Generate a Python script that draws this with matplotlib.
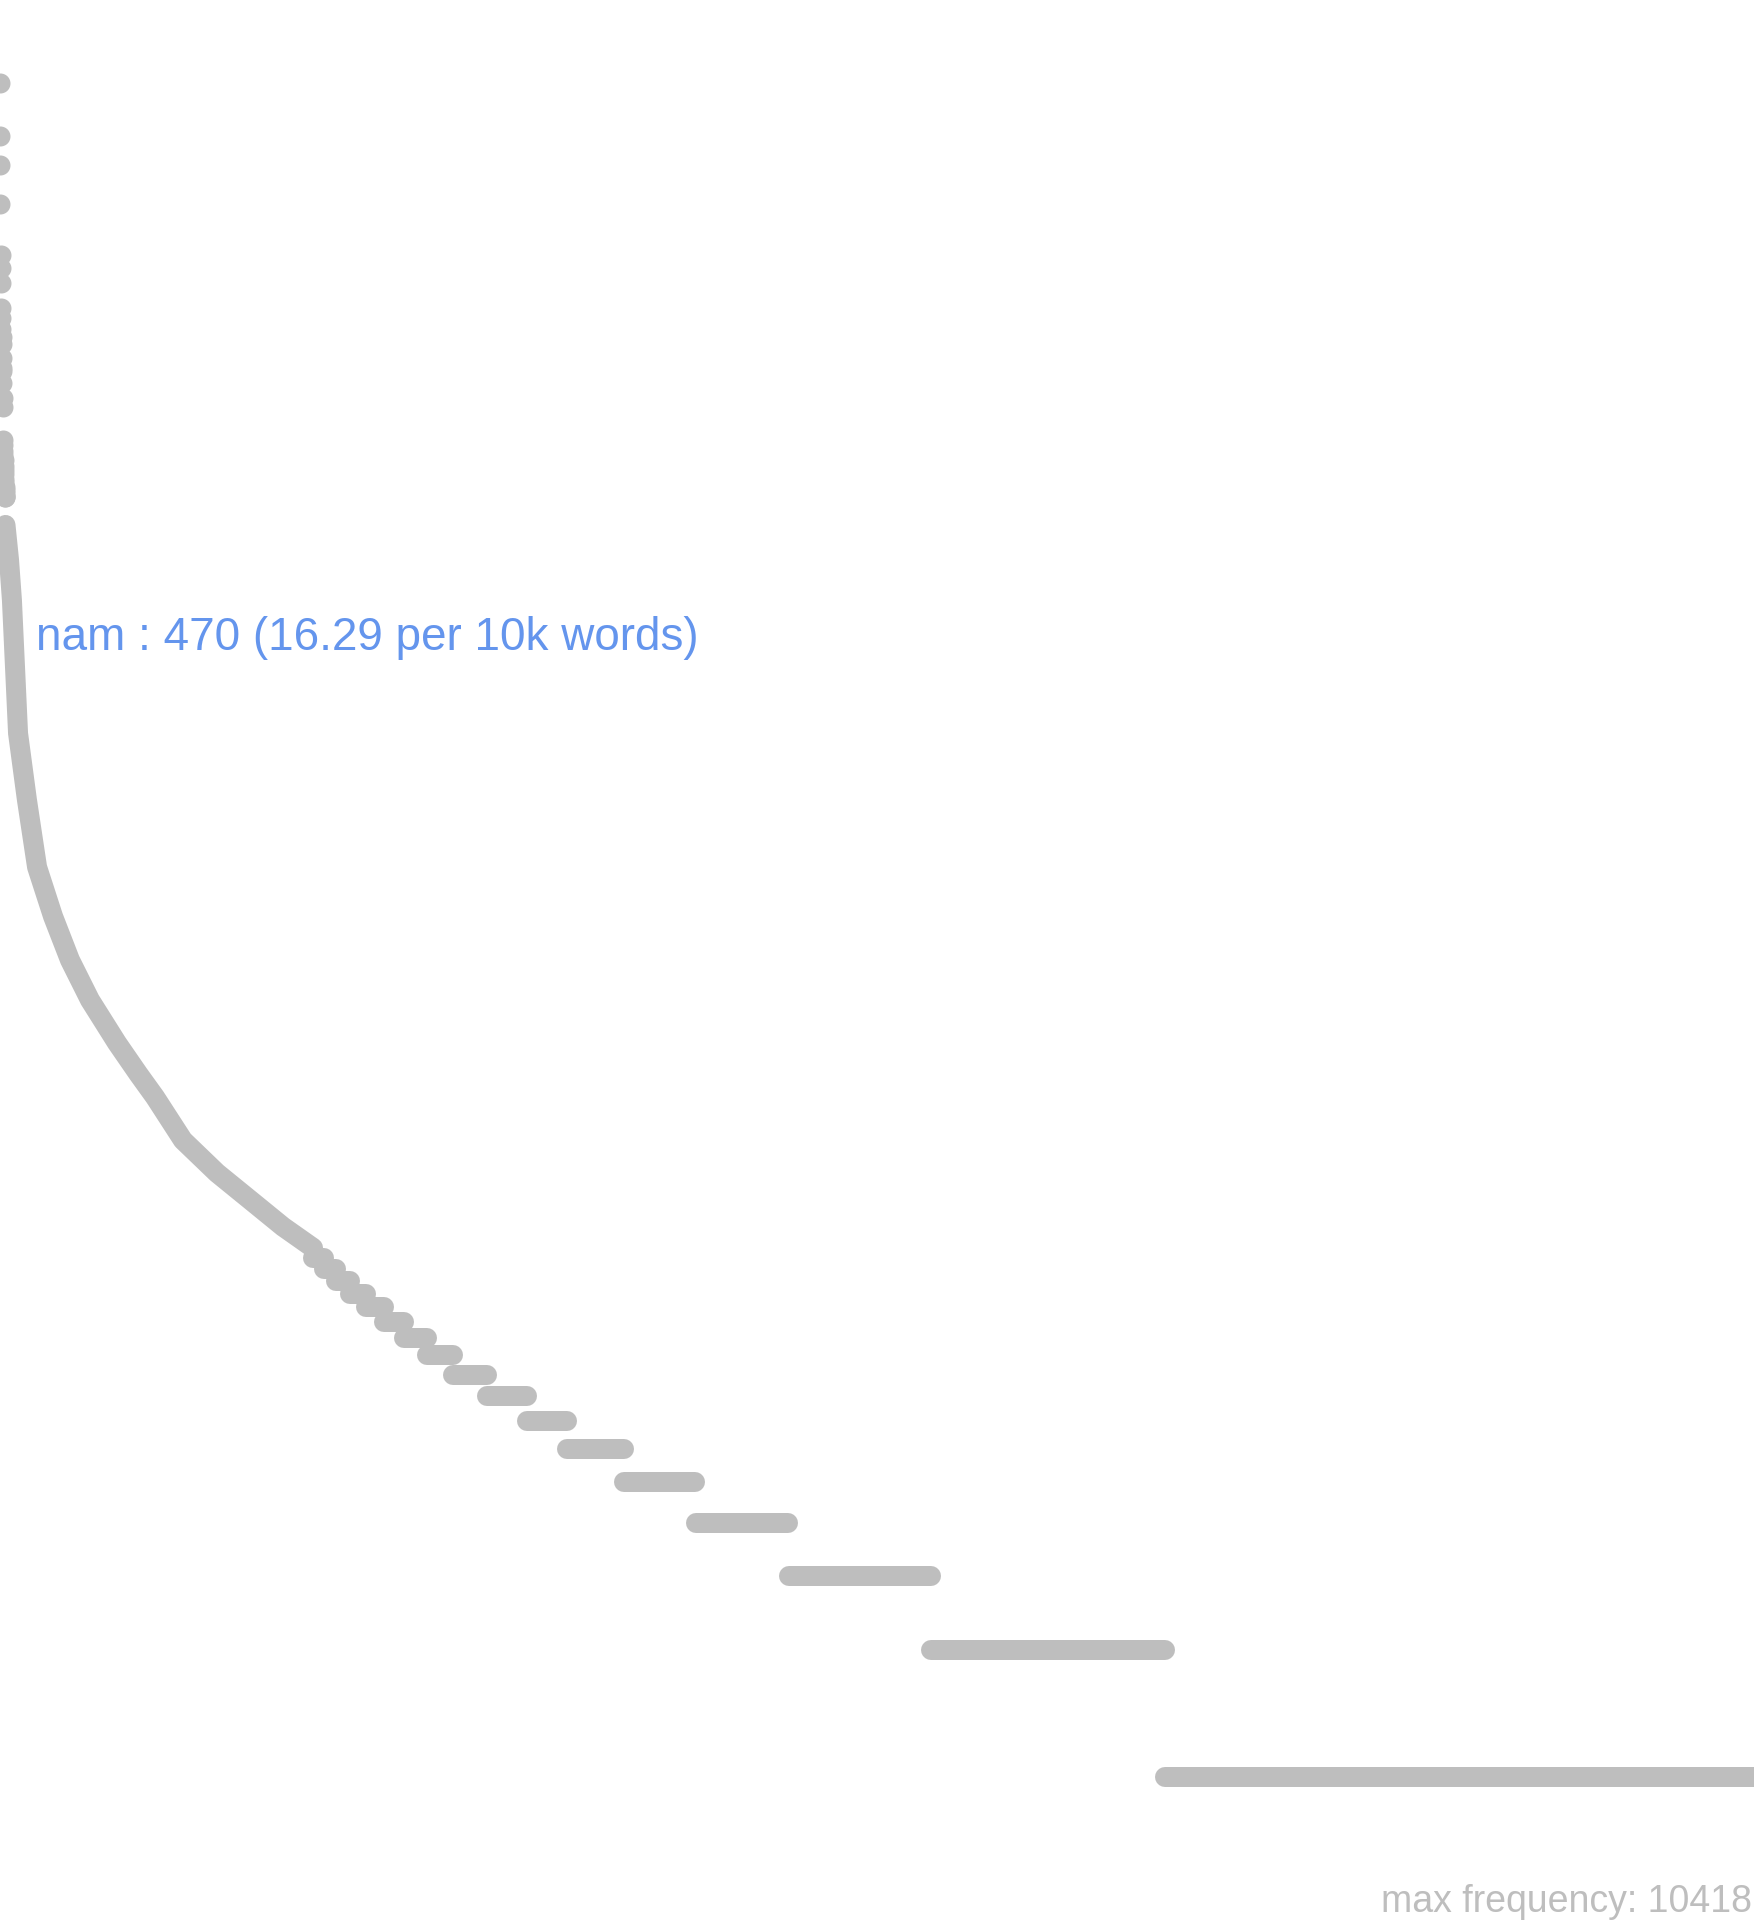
import numpy as np
import matplotlib.pyplot as plt

# word frequencies of the most frequent words (rank 1, 2, 3, ...)
top_freq = [10418, 7800, 6660, 5385,
            4074, 3797, 3498,
            3050, 2890, 2720, 2600, 2510, 2320, 2200, 2160, 2025, 1866, 1777,
            1483, 1440, 1400, 1370, 1330, 1290, 1260, 1230, 1200, 1180,
            1150, 1130, 1110, 1090, 1087, 1087]

# rank / frequency readings along the dense middle part of the curve
curve_rank = [35, 57, 75, 94, 113, 168, 231, 330, 435, 559, 727, 860,
              963, 1136, 1347, 1552, 1757, 1943]
curve_freq = [933, 771, 619, 430, 299, 208, 144, 110, 86.7, 69.7, 55.1, 46.5,
              41, 32.4, 27.1, 23.4, 20.2, 18]

# frequency spectrum of the rare words: how many words occur f times
level_freq = [17, 16, 15, 14, 13, 12, 11, 10, 9, 8, 7, 6, 5, 4, 3, 2, 1]
level_count = [68, 72, 88, 100, 112, 125, 140, 165, 210, 245, 251, 351, 445, 577, 884, 1450, 3657]

max_freq = 10418
nam_word = "nam"
nam_freq = 470
nam_rank = 88
nam_per10k = 16.29

gray = "#BEBEBE"
blue = "#6495ED"
dot_pt = 14.4

plt.rcParams['font.family'] = ['Liberation Sans', 'DejaVu Sans']

fig = plt.figure(figsize=(17.54, 19.2), dpi=100)
ax = fig.add_axes([0, 0, 1, 1])
ax.set_yscale('log')

top_rank = np.arange(1, len(top_freq) + 1)
ax.scatter(top_rank, top_freq, s=dot_pt ** 2, color=gray, linewidths=0)

ax.plot(curve_rank, curve_freq, color=gray, lw=dot_pt,
        solid_capstyle='round', solid_joinstyle='round')

counts = np.array(level_count)
starts = curve_rank[-1] + 1 + np.concatenate([[0], np.cumsum(counts)[:-1]])
ends = starts + counts - 1
for f, a, b in zip(level_freq, starts, ends):
    ax.plot([a, b], [f, f], color=gray, lw=dot_pt, solid_capstyle='round')

n_words = ends[-1]
ax.set_xlim(1, n_words)
ax.set_ylim(10 ** -0.339, 10 ** 4.215)
ax.axis('off')

ax.annotate(f"{nam_word} : {nam_freq} ({nam_per10k:.2f} per 10k words)",
            xy=(nam_rank, nam_freq), xytext=(16, 0), textcoords='offset points',
            ha='left', va='baseline', fontsize=33, color=blue)

fig.text(0.999, 0.004, f"max frequency: {max_freq}", ha='right', va='baseline',
         fontsize=27, color=gray)

fig.savefig("out.png", dpi=100)
